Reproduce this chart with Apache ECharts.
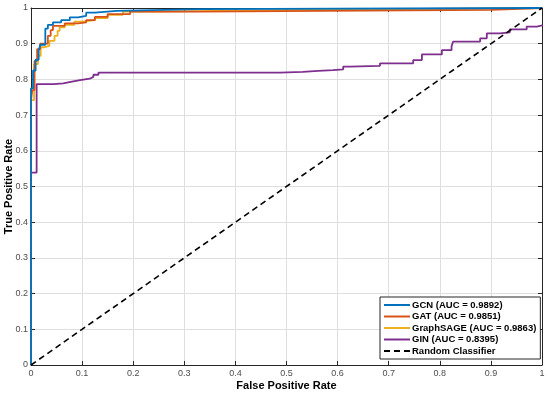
<!DOCTYPE html>
<html>
<head>
<meta charset="utf-8">
<script src="https://cdn.jsdelivr.net/npm/echarts@6/dist/echarts.min.js"></script>
<style>html,body{margin:0;padding:0;background:#fff}#c{width:550px;height:394px}</style>
</head>
<body>
<div id="c"></div>
<script>
const tickLabels = ['0','0.1','0.2','0.3','0.4','0.5','0.6','0.7','0.8','0.9','1'];
const seriesNames = ['GCN (AUC = 0.9892)','GAT (AUC = 0.9851)','GraphSAGE (AUC = 0.9863)','GIN (AUC = 0.8395)','Random Classifier'];

const gcnFpr = [0,0,0.004,0.004,0.009,0.009,0.015,0.015,0.018,0.018,0.028,0.028,0.033,0.033,0.043,0.043,0.059,0.059,0.076,0.076,0.092,0.092,0.108,0.108,0.125,0.125,0.168,0.168,0.33,0.33,1];
const gcnTpr = [0,0.775,0.775,0.825,0.825,0.855,0.855,0.88,0.88,0.897,0.897,0.942,0.942,0.953,0.953,0.96,0.96,0.966,0.966,0.974,0.974,0.978,0.978,0.987,0.987,0.992,0.992,0.997,0.997,1,1];

const gatFpr = [0,0,0.0025,0.0025,0.007,0.007,0.012,0.012,0.018,0.018,0.033,0.033,0.0385,0.0385,0.043,0.043,0.066,0.066,0.092,0.092,0.108,0.108,0.125,0.125,0.15,0.15,0.194,0.194,0.33,0.33,0.9,0.9,1];
const gatTpr = [0,0.742,0.742,0.77,0.77,0.852,0.852,0.885,0.885,0.9,0.9,0.922,0.922,0.938,0.938,0.95,0.95,0.957,0.957,0.96,0.96,0.966,0.966,0.975,0.975,0.983,0.983,0.99,0.99,0.995,0.995,1,1];

const sageFpr = [0,0,0.006,0.006,0.0137,0.0137,0.019,0.019,0.025,0.025,0.036,0.036,0.046,0.046,0.052,0.052,0.056,0.056,0.066,0.066,0.085,0.085,0.102,0.102,0.125,0.125,0.15,0.15,0.18,0.18,0.25,0.25,0.52,0.52,1];
const sageTpr = [0,0.742,0.742,0.843,0.843,0.866,0.866,0.89,0.89,0.894,0.894,0.908,0.908,0.922,0.922,0.936,0.936,0.946,0.946,0.953,0.953,0.962,0.962,0.966,0.966,0.972,0.972,0.981,0.981,0.99,0.99,0.995,0.995,1,1];

const ginFpr = [0,0,0.011,0.011,0.044,0.044,0.063,0.063,0.08,0.08,0.096,0.096,0.115,0.115,0.122,0.122,0.132,0.132,0.487,0.487,0.532,0.532,0.562,0.562,0.591,0.591,0.611,0.611,0.624,0.624,0.683,0.683,0.748,0.748,0.765,0.765,0.804,0.804,0.823,0.823,0.826,0.826,0.879,0.879,0.892,0.892,0.918,0.918,0.937,0.937,0.97,0.97,0.99,0.99,1,1];
const ginTpr = [0,0.539,0.539,0.787,0.787,0.789,0.789,0.794,0.794,0.798,0.798,0.802,0.802,0.807,0.807,0.813,0.813,0.819,0.819,0.821,0.821,0.824,0.824,0.826,0.826,0.828,0.828,0.836,0.836,0.838,0.838,0.845,0.845,0.854,0.854,0.87,0.87,0.882,0.882,0.892,0.892,0.906,0.906,0.915,0.915,0.929,0.929,0.932,0.932,0.94,0.94,0.948,0.948,0.951,0.951,0.954,1];

const randFpr = [0,1];
const randTpr = [0,1];

const colors = ['#0072BD','#D95319','#EDB120','#7E2F8E','#000000'];

function zip(a,b){ return a.map((v,i)=>[v,b[i]]); }

const chart = echarts.init(document.getElementById('c'), null, {renderer:'canvas'});
const axisCommon = {
  type:'value', min:0, max:1, interval:0.1,
  axisLine:{show:true, onZero:false, lineStyle:{color:'#262626', width:1}},
  axisTick:{show:true, inside:true, length:4, lineStyle:{color:'#262626'}},
  splitLine:{show:true, lineStyle:{color:'#dfdfdf', width:1}},
};
const labelFmt = v => tickLabels[Math.round(v*10)];
const option = {
  animation:false,
  backgroundColor:'#fff',
  grid:{left:31, right:8, top:8, bottom:29, containLabel:false, outerBoundsMode:'none'},
  xAxis:[
    Object.assign({}, axisCommon, {
      position:'bottom', name:'False Positive Rate', nameLocation:'middle', nameGap:15, nameMoveOverlap:false,
      nameTextStyle:{fontFamily:'Liberation Sans, Arial', fontWeight:'bold', fontSize:11, color:'#000'},
      axisLabel:{formatter:labelFmt, fontFamily:'Liberation Sans, Arial', fontSize:9, color:'#4d4d4d', margin:4}
    }),
    Object.assign({}, axisCommon, {position:'top', axisLabel:{show:false}, splitLine:{show:false}})
  ],
  yAxis:[
    Object.assign({}, axisCommon, {
      position:'left', name:'True Positive Rate', nameLocation:'middle', nameGap:17, nameMoveOverlap:false,
      nameTextStyle:{fontFamily:'Liberation Sans, Arial', fontWeight:'bold', fontSize:11, color:'#000'},
      axisLabel:{formatter:labelFmt, fontFamily:'Liberation Sans, Arial', fontSize:9, color:'#4d4d4d', margin:3}
    }),
    Object.assign({}, axisCommon, {position:'right', axisLabel:{show:false}, splitLine:{show:false}})
  ],
  legend:{
    show:true,
    left:380, top:297, orient:'vertical', itemWidth:26, itemHeight:10, itemGap:1.5,
    padding:[3,4,3,3],
    backgroundColor:'#fff', borderColor:'#262626', borderWidth:1,
    itemStyle:{opacity:0},
    textStyle:{fontFamily:'Liberation Sans, Arial', fontWeight:'bold', fontSize:9.5, color:'#000', padding:[0,0,0,-3]},
    data:seriesNames
  },
  series:[
    {name:seriesNames[3], type:'line', data:zip(ginFpr,ginTpr), showSymbol:false, symbol:'none', lineStyle:{color:colors[3], width:1.8}, itemStyle:{color:colors[3]}, z:2},
    {name:seriesNames[2], type:'line', data:zip(sageFpr,sageTpr), showSymbol:false, symbol:'none', lineStyle:{color:colors[2], width:1.8}, itemStyle:{color:colors[2]}, z:3},
    {name:seriesNames[1], type:'line', data:zip(gatFpr,gatTpr), showSymbol:false, symbol:'none', lineStyle:{color:colors[1], width:1.8}, itemStyle:{color:colors[1]}, z:4},
    {name:seriesNames[0], type:'line', data:zip(gcnFpr,gcnTpr), showSymbol:false, symbol:'none', lineStyle:{color:colors[0], width:1.8}, itemStyle:{color:colors[0]}, z:5},
    {name:seriesNames[4], type:'line', data:zip(randFpr,randTpr), showSymbol:false, symbol:'none', lineStyle:{color:colors[4], width:1.6, type:[6,4]}, itemStyle:{color:colors[4]}, z:6}
  ]
};
chart.setOption(option);
</script>
</body>
</html>
